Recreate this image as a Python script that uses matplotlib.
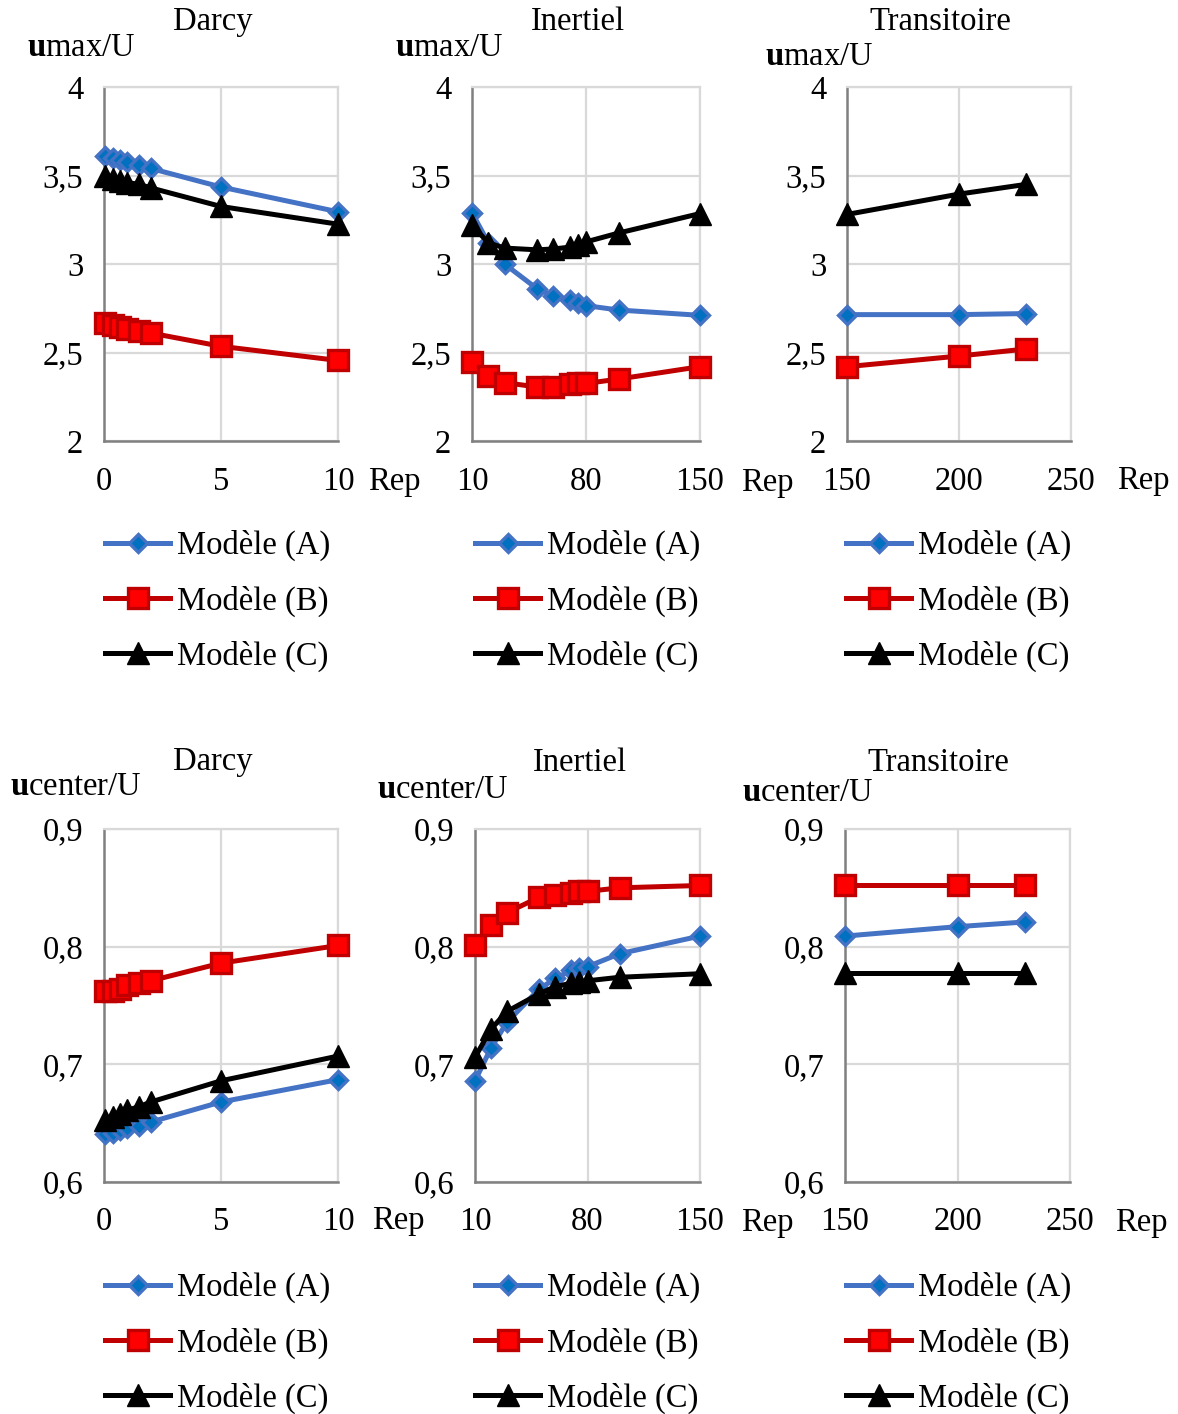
import matplotlib
matplotlib.use("Agg")
import matplotlib.pyplot as plt

plt.rcParams['font.family'] = ['Liberation Serif', 'DejaVu Serif']
plt.rcParams['mathtext.fontset'] = 'custom'
plt.rcParams['mathtext.rm'] = 'Liberation Serif'
plt.rcParams['mathtext.bf'] = 'Liberation Serif:bold'
plt.rcParams['mathtext.it'] = 'Liberation Serif:italic'

# ---------------- data ----------------
rep_darcy = [0.05, 0.4, 0.7, 1.0, 1.5, 2.0, 5.0, 10.0]
rep_inert = [10, 20, 30, 50, 60, 70, 75, 80, 100, 150]
rep_trans = [150, 200, 230]

umax_darcy_A = [3.61, 3.60, 3.585, 3.575, 3.56, 3.54, 3.435, 3.295]
umax_darcy_B = [2.665, 2.655, 2.645, 2.635, 2.62, 2.61, 2.535, 2.455]
umax_darcy_C = [3.50, 3.48, 3.47, 3.46, 3.45, 3.43, 3.325, 3.225]

umax_inert_A = [3.29, 3.12, 3.00, 2.86, 2.82, 2.795, 2.78, 2.765, 2.74, 2.71]
umax_inert_B = [2.445, 2.365, 2.33, 2.305, 2.305, 2.32, 2.325, 2.325, 2.35, 2.42]
umax_inert_C = [3.22, 3.12, 3.09, 3.08, 3.085, 3.095, 3.11, 3.125, 3.175, 3.285]

umax_trans_A = [2.714, 2.714, 2.72]
umax_trans_B = [2.42, 2.48, 2.52]
umax_trans_C = [3.28, 3.395, 3.45]

ucen_darcy_A = [0.641, 0.642, 0.644, 0.646, 0.648, 0.651, 0.668, 0.687]
ucen_darcy_B = [0.762, 0.762, 0.764, 0.767, 0.769, 0.771, 0.786, 0.801]
ucen_darcy_C = [0.653, 0.655, 0.658, 0.661, 0.664, 0.668, 0.686, 0.707]

ucen_inert_A = [0.686, 0.714, 0.736, 0.764, 0.773, 0.780, 0.782, 0.783, 0.794, 0.809]
ucen_inert_B = [0.801, 0.818, 0.829, 0.842, 0.844, 0.846, 0.847, 0.847, 0.850, 0.852]
ucen_inert_C = [0.706, 0.730, 0.745, 0.760, 0.766, 0.769, 0.770, 0.771, 0.774, 0.777]

ucen_trans_A = [0.809, 0.817, 0.821]
ucen_trans_B = [0.852, 0.852, 0.852]
ucen_trans_C = [0.778, 0.778, 0.778]

xticks_darcy = [0, 5, 10]
xticks_inert = [10, 80, 150]
xticks_trans = [150, 200, 250]
yticks_umax = [2, 2.5, 3, 3.5, 4]
yticklabels_umax = ["2", "2,5", "3", "3,5", "4"]
yticks_ucen = [0.6, 0.7, 0.8, 0.9]
yticklabels_ucen = ["0,6", "0,7", "0,8", "0,9"]

titles = ["Darcy", "Inertiel", "Transitoire"]
series_labels = ["Modèle (A)", "Modèle (B)", "Modèle (C)"]

# ---------------- figure ----------------
W, H = 1178, 1414
fig = plt.figure(figsize=(W / 100, H / 100), dpi=100)

FS = 23.5

def px_rect(l, t, r, b):
    return [l / W, 1 - b / H, (r - l) / W, (b - t) / H]

styles = [
    dict(color="#4472C4", marker="D", markersize=9.5, markerfacecolor="#0070C0",
         markeredgecolor="#4472C4", markeredgewidth=2.4, lw=3.6),
    dict(color="#C00000", marker="s", markersize=14, markerfacecolor="#FF0000",
         markeredgecolor="#C00000", markeredgewidth=2.4, lw=3.6),
    dict(color="#000000", marker="^", markersize=16, markerfacecolor="#000000",
         markeredgecolor="#000000", markeredgewidth=1, lw=3.6),
]

panels = [
    ((104, 87, 338, 441), rep_darcy, (umax_darcy_A, umax_darcy_B, umax_darcy_C), (0, 10), xticks_darcy, (2, 4), yticks_umax, yticklabels_umax),
    ((472, 87, 700, 441), rep_inert, (umax_inert_A, umax_inert_B, umax_inert_C), (10, 150), xticks_inert, (2, 4), yticks_umax, yticklabels_umax),
    ((847, 87, 1071, 441), rep_trans, (umax_trans_A, umax_trans_B, umax_trans_C), (150, 250), xticks_trans, (2, 4), yticks_umax, yticklabels_umax),
    ((104, 829, 338, 1182), rep_darcy, (ucen_darcy_A, ucen_darcy_B, ucen_darcy_C), (0, 10), xticks_darcy, (0.6, 0.9), yticks_ucen, yticklabels_ucen),
    ((475, 829, 700, 1182), rep_inert, (ucen_inert_A, ucen_inert_B, ucen_inert_C), (10, 150), xticks_inert, (0.6, 0.9), yticks_ucen, yticklabels_ucen),
    ((845, 829, 1070, 1182), rep_trans, (ucen_trans_A, ucen_trans_B, ucen_trans_C), (150, 250), xticks_trans, (0.6, 0.9), yticks_ucen, yticklabels_ucen),
]

for i, (rect, xs, ys, xlim, xt, ylim, yt, ytl) in enumerate(panels):
    ax = fig.add_axes(px_rect(*rect))
    ax.set_xlim(*xlim)
    ax.set_ylim(*ylim)
    ax.set_xticks(xt)
    ax.set_xticklabels([str(v) for v in xt])
    ax.set_yticks(yt)
    ax.set_yticklabels(ytl)
    ax.grid(True, color="#D9D9D9", lw=1.6)
    ax.set_axisbelow(True)
    for s in ("top", "right"):
        ax.spines[s].set_color("#D9D9D9")
        ax.spines[s].set_linewidth(1.6)
    for s in ("left", "bottom"):
        ax.spines[s].set_color("#808080")
        ax.spines[s].set_linewidth(1.8)
    ax.tick_params(axis="both", length=0, labelsize=FS)
    ax.tick_params(axis="y", pad=15)
    ax.tick_params(axis="x", pad=18)
    handles = []
    for k in range(3):
        h, = ax.plot(xs, ys[k], label=series_labels[k], clip_on=False, zorder=3 + k, **styles[k])
        handles.append(h)

    col = i % 3
    legx = [105, 475, 846][col]
    legy = 601 if i < 3 else 1343
    fig.legend(handles=handles, labels=series_labels, loc="center left",
               bbox_to_anchor=(legx / W, 1 - legy / H), frameon=False,
               fontsize=FS, handlelength=2.0, handletextpad=0.2,
               borderpad=0, borderaxespad=0, labelspacing=0.74)

# titles
title_pos = [(213, 22), (578, 22), (940, 22), (213, 762), (580, 763), (938, 763)]
for i, (x, y) in enumerate(title_pos):
    fig.text(x / W, 1 - y / H, titles[i % 3], ha="center", va="center", fontsize=FS)

# y labels
ylab_pos = [(27, 48), (395, 48), (765, 57), (10, 787), (377, 790), (742, 793)]
for i, (x, y) in enumerate(ylab_pos):
    lab = r"$\mathbf{u}\mathrm{max/U}$" if i < 3 else r"$\mathbf{u}\mathrm{center/U}$"
    fig.text(x / W, 1 - y / H, lab, ha="left", va="center", fontsize=FS)

# x labels "Rep"
rep_pos = [(368, 482), (741, 483), (1117, 481), (372, 1221), (741, 1223), (1115, 1223)]
for (x, y) in rep_pos:
    fig.text(x / W, 1 - y / H, "Rep", ha="left", va="center", fontsize=FS)

fig.savefig("out.png", dpi=100, facecolor="white")
